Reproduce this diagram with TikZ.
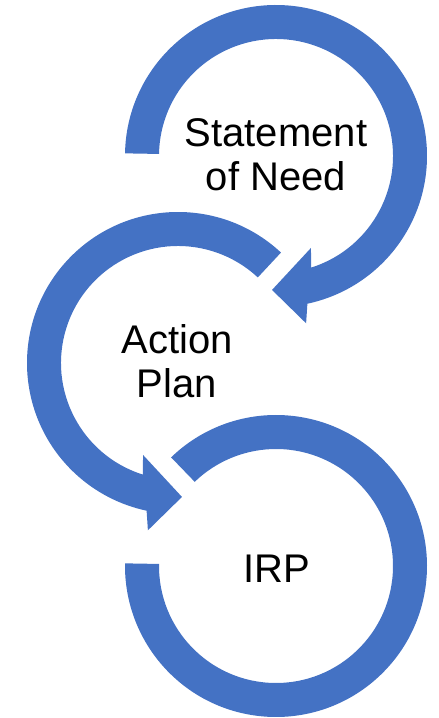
\documentclass[tikz,border=0pt]{standalone}
\usepackage{fontspec}
\setmainfont{Liberation Sans}
\usetikzlibrary{calc}
\definecolor{smblue}{HTML}{4472C4}
\begin{document}
\begin{tikzpicture}[x=1pt,y=1pt,
  ring/.style={fill=smblue, draw=none},
  lbl/.style={font=\fontsize{40}{44}\selectfont, align=center, inner sep=0pt, text=black}]
\useasboundingbox (0,0) rectangle (439,718);
\coordinate (c1) at (276,562);
\coordinate (c2) at (178,355);
\coordinate (c3) at (276,152);
% arc 1 with arrowhead
\fill[ring] ($(c1)+(179:151)$) arc[start angle=179,end angle=-78,radius=151]
  -- ($(c1)+(-79.8:170)$) -- ($(c1)+(-91.7:134)$) -- ($(c1)+(-69.2:98.4)$)
  -- ($(c1)+(-72.5:117)$) arc[start angle=-72.5,end angle=179,radius=117] -- cycle;
% arc 2 with arrowhead
\fill[ring] ($(c2)+(47:151)$) arc[start angle=47,end angle=258,radius=151]
  -- ($(c2)+(259.8:170)$) -- ($(c2)+(271.7:134)$) -- ($(c2)+(249.2:98.4)$)
  -- ($(c2)+(252.5:117)$) arc[start angle=252.5,end angle=47,radius=117] -- cycle;
% arc 3
\fill[ring] ($(c3)+(134:151)$) arc[start angle=134,end angle=-181,radius=151]
  -- ($(c3)+(-181:117)$) arc[start angle=-181,end angle=134,radius=117] -- cycle;
\node[lbl] (t1) at (276,563.7) {Statement\\of Need};
\node[lbl] (t2) at (177,357.2) {Action\\Plan};
\node[lbl] (t3) at (276.5,149.6) {IRP};
\end{tikzpicture}
\end{document}
